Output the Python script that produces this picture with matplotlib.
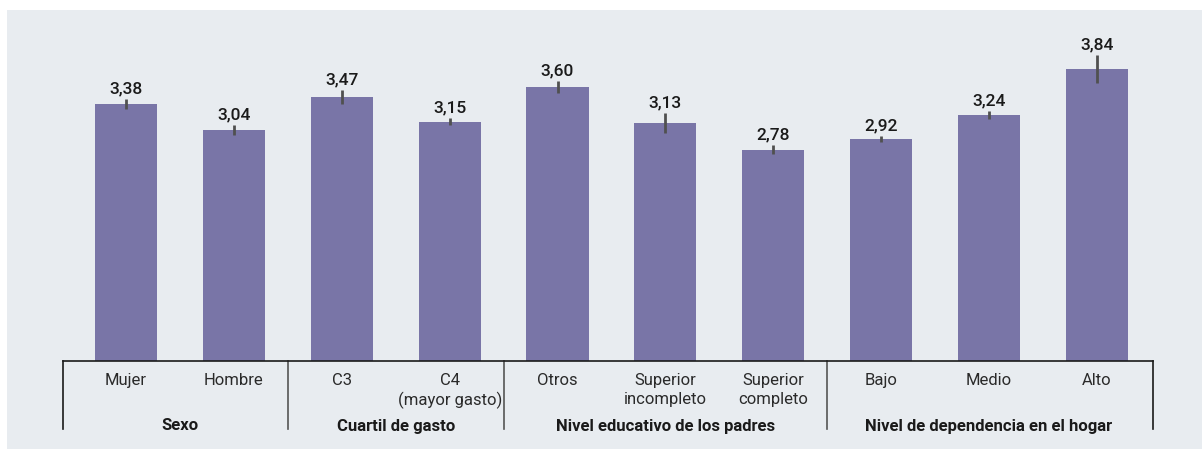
import matplotlib
matplotlib.use("Agg")
import matplotlib.pyplot as plt
from matplotlib.patches import Rectangle

plt.rcParams['font.family'] = ['Roboto', 'DejaVu Sans']

categories = ["Mujer", "Hombre", "C3", "C4\n(mayor gasto)", "Otros",
              "Superior\nincompleto", "Superior\ncompleto", "Bajo", "Medio", "Alto"]
values = [3.38, 3.04, 3.47, 3.15, 3.60, 3.13, 2.78, 2.92, 3.24, 3.84]
errors = [0.066, 0.066, 0.09, 0.05, 0.08, 0.13, 0.06, 0.04, 0.05, 0.18]
value_labels = ["3,38", "3,04", "3,47", "3,15", "3,60", "3,13", "2,78", "2,92", "3,24", "3,84"]
groups = ["Sexo", "Cuartil de gasto", "Nivel educativo de los padres",
          "Nivel de dependencia en el hogar"]
group_sizes = [2, 2, 3, 3]

W, H = 1202, 449
fig = plt.figure(figsize=(W / 100, H / 100), dpi=100)
fig.patch.set_facecolor("white")
bg = "#e8ecf0"
fig.add_artist(Rectangle((7 / W, 0), 1 - 7 / W, (H - 10) / H,
                         transform=fig.transFigure, facecolor=bg, edgecolor="none", zorder=0))

ax_left, ax_right, base_y, top_y = 63, 1153, 361, 10
ax = fig.add_axes([ax_left / W, (H - base_y) / H, (ax_right - ax_left) / W, (base_y - top_y) / H])
ax.set_facecolor("none")
ppu = 76.0
ax.set_ylim(0, (base_y - top_y) / ppu)
xl, xr = -0.584, 9.52
ax.set_xlim(xl, xr)

x = list(range(len(values)))
ax.bar(x, values, width=0.575, color="#7975a7", zorder=2)
ax.errorbar(x, values, yerr=errors, fmt="none", ecolor="#505050", elinewidth=2.0, capsize=0, zorder=3)
for xi, v, e, lab in zip(x, values, errors, value_labels):
    ax.annotate(lab, (xi, v + e), xytext=(0, 2), textcoords="offset points",
                ha="center", va="bottom", fontsize=12.5, fontweight="medium", color="#1a1a1a")

for s in ["top", "right", "left"]:
    ax.spines[s].set_visible(False)
ax.spines["bottom"].set_color("#1a1a1a")
ax.spines["bottom"].set_linewidth(1.2)
ax.set_xticks([])
ax.set_yticks([])

def py(p):
    return (base_y - p) / ppu

# category labels
for xi, c in zip(x, categories):
    ax.text(xi, py(373), c, ha="center", va="top", fontsize=12, color="#2a2a2a",
            linespacing=1.3, clip_on=False)

# separators and group labels
bounds = [xl]
acc = 0
for n in group_sizes:
    acc += n
    bounds.append(acc - 0.5 if acc < len(values) else xr)
for i, b in enumerate(bounds):
    col = "#1a1a1a" if i in (0, len(bounds) - 1) else "#555555"
    ax.plot([b, b], [0, py(429)], color=col, lw=1.2, clip_on=False, zorder=1)
for i, g in enumerate(groups):
    start = sum(group_sizes[:i])
    center = start + (group_sizes[i] - 1) / 2
    ax.text(center, py(426), g, ha="center", va="center", fontsize=12,
            fontweight="bold", color="#1a1a1a", clip_on=False)

fig.savefig("out.png", dpi=100)
